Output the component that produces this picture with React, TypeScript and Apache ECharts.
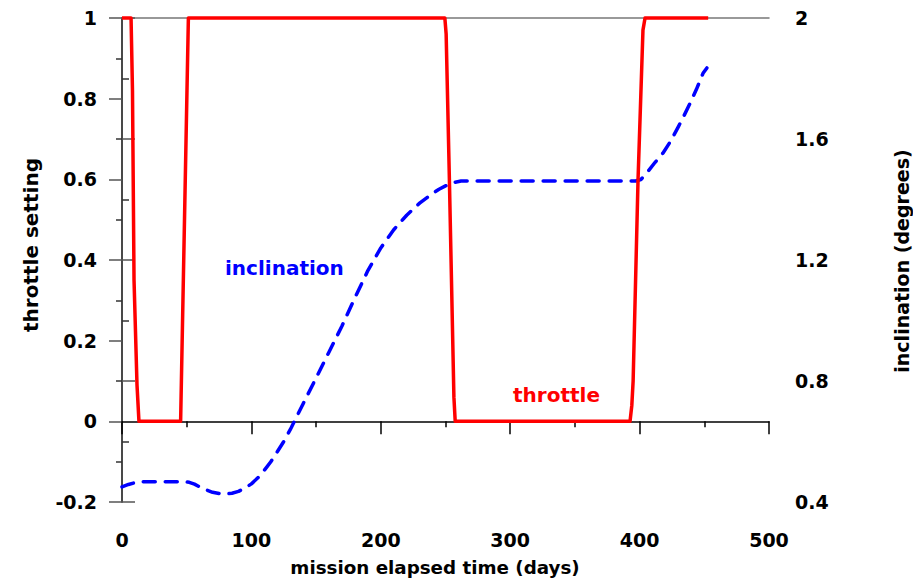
import React, { useEffect, useRef } from "react";
import * as echarts from "echarts";

const throttleDays = [0, 7, 8.1, 9.3, 11.6, 13.1, 45.3, 51.3, 249.5, 250.5, 253, 256.5, 257.5, 392.6, 394, 395, 398.8, 402.6, 404.2, 453];
const throttleValues = [1, 1, 0.82, 0.35, 0.09, 0, 0, 1, 1, 0.96, 0.6, 0.06, 0, 0, 0.04, 0.1, 0.6, 0.97, 1, 1];

const inclinationDays = [0, 5, 10, 15, 30, 48, 52, 56, 60, 65, 70, 75, 80, 85, 90, 95, 100, 105, 110, 115, 120, 125, 130, 140, 150, 160, 170, 180, 190, 200, 210, 220, 230, 240, 245, 250, 256, 262, 397, 401, 406, 412, 418, 424, 430, 435, 439, 444, 449, 452];
const inclinationValues = [0.45, 0.458, 0.464, 0.467, 0.467, 0.467, 0.465, 0.459, 0.45, 0.44, 0.432, 0.428, 0.427, 0.429, 0.435, 0.446, 0.46, 0.48, 0.505, 0.533, 0.566, 0.6, 0.639, 0.725, 0.81, 0.896, 0.982, 1.075, 1.165, 1.24, 1.3, 1.348, 1.388, 1.42, 1.434, 1.445, 1.456, 1.461, 1.461, 1.466, 1.49, 1.523, 1.553, 1.593, 1.641, 1.683, 1.718, 1.765, 1.817, 1.835];

const xTitle = "mission elapsed time (days)";
const leftTitle = "throttle setting";
const rightTitle = "inclination (degrees)";

const FONT = "DejaVu Sans";

export default function App() {
  const ref = useRef<HTMLDivElement>(null);
  useEffect(() => {
    if (!ref.current) return;
    const chart = echarts.init(ref.current, undefined, { renderer: "svg" });
    const fmt = (v: number) => String(Math.round(v * 10) / 10);
    const labelStyle = { fontSize: 19, fontWeight: "bold" as const, fontFamily: FONT, color: "#000" };
    chart.setOption({
      animation: false,
      backgroundColor: "#fff",
      grid: { left: 122, right: 144, top: 18, bottom: 76, containLabel: false },
      xAxis: [
        {
          type: "value", min: 0, max: 500, interval: 100, position: "bottom",
          axisLine: { show: true, lineStyle: { color: "#000", width: 1.5 } },
          axisTick: { show: true, inside: false, length: 13, lineStyle: { color: "#000", width: 1.5 } },
          minorTick: { show: true, splitNumber: 2, length: 6, lineStyle: { color: "#000", width: 1.5 } },
          splitLine: { show: false },
          axisLabel: { ...labelStyle, margin: 28 },
        },
        {
          type: "value", min: 0, max: 500, position: "top",
          axisLine: { show: true, lineStyle: { color: "#777", width: 1.5 } },
          axisTick: { show: false }, axisLabel: { show: false }, splitLine: { show: false },
        },
      ],
      yAxis: [
        {
          type: "value", min: -0.2, max: 1, interval: 0.2, position: "left",
          axisLine: { show: true, lineStyle: { color: "#666", width: 1.5 } },
          axisTick: { show: true, inside: false, length: 13, lineStyle: { color: "#555", width: 1.5 } },
          minorTick: { show: true, splitNumber: 2, length: 6, lineStyle: { color: "#333", width: 1.5 } },
          splitLine: { show: false },
          axisLabel: { ...labelStyle, margin: 25, formatter: fmt },
        },
        {
          type: "value", min: 0.4, max: 2, interval: 0.4, position: "right",
          axisLine: { show: true, lineStyle: { color: "#333", width: 1.5 } },
          axisTick: { show: true, inside: false, length: 13, lineStyle: { color: "#555", width: 1.5 } },
          minorTick: { show: true, splitNumber: 2, length: 7, lineStyle: { color: "#333", width: 1.5 } },
          splitLine: { show: false },
          axisLabel: { ...labelStyle, margin: 26, formatter: fmt },
        },
      ],
      series: [
        {
          name: "inclination", type: "line", xAxisIndex: 0, yAxisIndex: 1,
          data: inclinationDays.map((d, i) => [d, inclinationValues[i]]),
          showSymbol: false, smooth: false, clip: false,
          lineStyle: { color: "#0000ff", width: 3.5, type: [12, 10], cap: "round", join: "round" },
          z: 2,
        },
        {
          name: "throttle", type: "line", xAxisIndex: 0, yAxisIndex: 0,
          data: throttleDays.map((d, i) => [d, throttleValues[i]]),
          showSymbol: false, clip: false,
          lineStyle: { color: "#ff0000", width: 3.5, join: "round" },
          z: 3,
        },
      ],
      graphic: [
        { type: "text", left: 225, top: 258, style: { text: "inclination", fontSize: 20, fontWeight: "bold", fontFamily: FONT, fill: "#0000ff" } },
        { type: "text", left: 513, top: 385, style: { text: "throttle", fontSize: 20, fontWeight: "bold", fontFamily: FONT, fill: "#ff0000" } },
        { type: "text", x: 435, y: 567, style: { text: xTitle, fontSize: 18.3, fontWeight: "bold", fontFamily: FONT, fill: "#000", textAlign: "center", textVerticalAlign: "middle" } },
        { type: "text", x: 31, y: 245, rotation: Math.PI / 2, style: { text: leftTitle, fontSize: 20, fontWeight: "bold", fontFamily: FONT, fill: "#000", textAlign: "center", textVerticalAlign: "middle" } },
        { type: "text", x: 902, y: 261, rotation: Math.PI / 2, style: { text: rightTitle, fontSize: 19, fontWeight: "bold", fontFamily: FONT, fill: "#000", textAlign: "center", textVerticalAlign: "middle" } },
      ],
    });
    return () => chart.dispose();
  }, []);
  return <div ref={ref} style={{ position: "fixed", left: 0, top: 0, width: 913, height: 578, background: "#fff" }} />;
}
